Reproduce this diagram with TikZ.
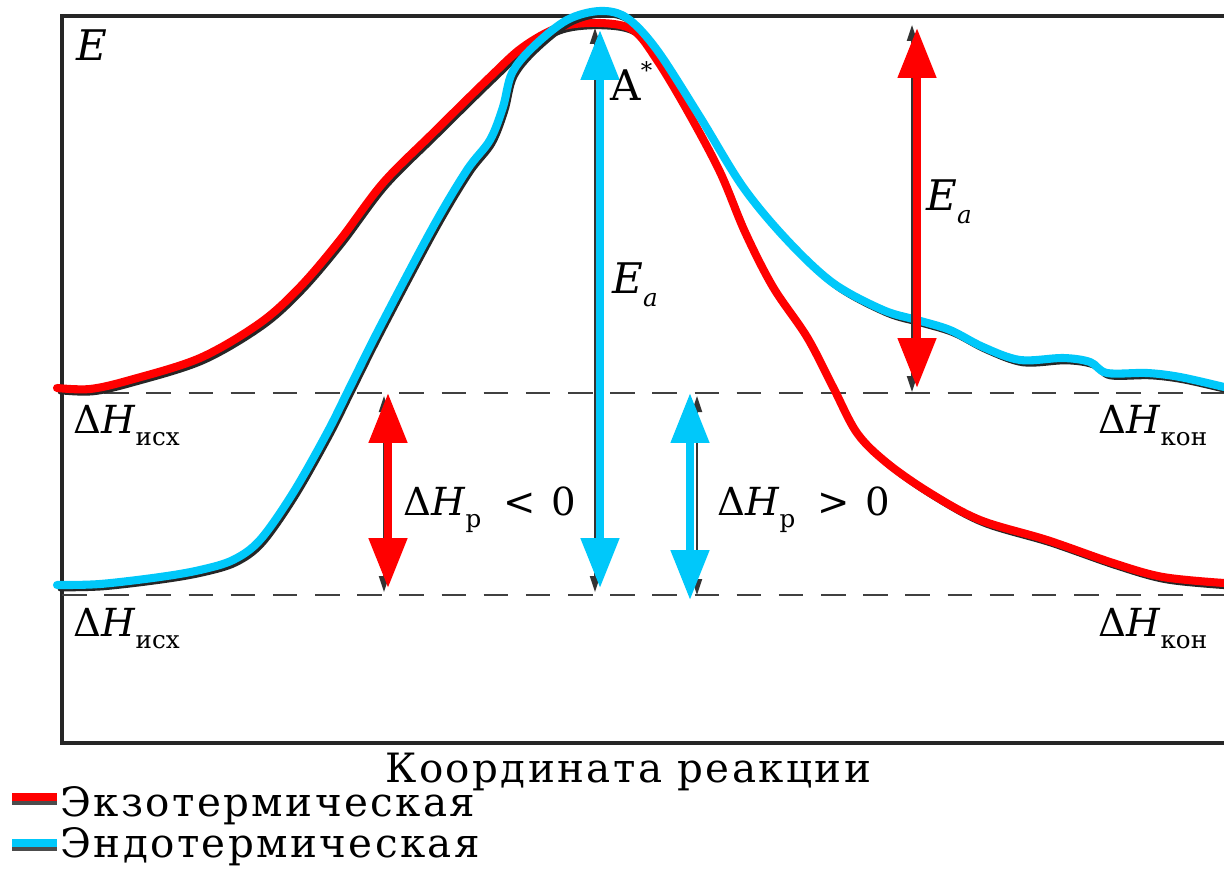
\documentclass[tikz,border=0pt]{standalone}
\usepackage{fontspec}
\setmainfont{DejaVu Serif}
\newfontfamily\spacedfont[LetterSpace=6]{DejaVu Serif}
\usetikzlibrary{arrows.meta}
\definecolor{exored}{RGB}{255,0,0}
\definecolor{endoblue}{RGB}{0,200,250}
\newcommand\lowsub[1]{\raisebox{-0.32em}{\fontsize{14}{14}\selectfont #1}}

\begin{document}
\begin{tikzpicture}[x=0.02cm, y=-0.02cm,
    lbl/.style={font=\fontsize{22}{24}\selectfont, inner sep=0pt, anchor=base west},
    elbl/.style={font=\fontsize{24}{26}\selectfont, inner sep=0pt, anchor=base west},
    txt/.style={font=\spacedfont\fontsize{23}{25}\selectfont, inner sep=0pt, anchor=base west},
    frame/.style={line width=2pt, black!85},
    level/.style={line width=1.2pt, black!75, dash pattern=on 14pt off 10pt},
    shadow/.style={line width=2.6pt, black!85, line cap=round, line join=round},
    exo/.style={exored, line width=4.6pt, line cap=round, line join=round},
    endo/.style={endoblue, line width=4.6pt, line cap=round, line join=round},
    oldarr/.style={{Triangle[length=0.32cm,width=0.2cm]}-{Triangle[length=0.32cm,width=0.2cm]},
      line width=1.2pt, black!80},
    colarr/.style={{Triangle[length=1cm,width=0.74cm]}-{Triangle[length=1cm,width=0.74cm]},
      line width=4.6pt},
  ]
  \useasboundingbox (0,0) rectangle (1224,869);
  \fill[white] (0,0) rectangle (1224,869);

  % frame
  \coordinate (fTL) at (62,16);
  \coordinate (fTR) at (1224,16);
  \coordinate (fBL) at (62,743);
  \coordinate (fBR) at (1224,743);
  \draw[frame] (fTR) -- (fTL) -- (fBL) -- (fBR);

  % levels
  \coordinate (hiL) at (62,393);
  \coordinate (hiR) at (1224,393);
  \coordinate (loL) at (62,595);
  \coordinate (loR) at (1224,595);
  \draw[level] (hiL) -- (hiR);
  \draw[level] (loL) -- (loR);

  % exothermic curve (with dark trace under it)
  \foreach \sty/\dx/\dy in {shadow/0.06cm/-0.08cm, exo/0cm/0cm}
    \draw[\sty, xshift=\dx, yshift=\dy] plot[smooth, tension=0.55] coordinates {
      (57,388) (90,389) (130,380) (200,358) (260,323) (300,287) (340,240)
      (383,183) (433,133) (490,77) (523,47) (560,27) (600,23) (633,30)
      (657,60) (687,110) (720,172) (745,232) (773,287) (807,337) (833,387)
      (857,433) (887,463) (930,493) (980,520) (1047,540) (1113,563)
      (1163,577) (1224,583)};

  % endothermic curve
  \foreach \sty/\dx/\dy in {shadow/0.06cm/-0.08cm, endo/0cm/0cm}
    \draw[\sty, xshift=\dx, yshift=\dy] plot[smooth, tension=0.55] coordinates {
      (57,585) (100,584) (160,577) (200,570) (233,560) (260,540) (293,493)
      (327,433) (350,387) (380,327) (433,227) (467,170) (490,140) (503,107)
      (512,73) (533,47) (567,20) (600,11) (627,18) (657,50) (700,117)
      (743,187) (787,240) (833,283) (883,310) (917,320) (950,330) (983,347)
      (1020,360) (1063,358) (1090,362) (1107,373) (1147,373) (1180,377)
      (1224,387)};

  % original black arrows
  \coordinate (oA1) at (384,396);  \coordinate (oA2) at (384,592);
  \coordinate (oB1) at (595,28);   \coordinate (oB2) at (595,592);
  \coordinate (oC1) at (697,396);  \coordinate (oC2) at (697,595);
  \coordinate (oD1) at (912,25);   \coordinate (oD2) at (912,392);
  \draw[oldarr] (oA1) -- (oA2);
  \draw[oldarr] (oB1) -- (oB2);
  \draw[oldarr] (oC1) -- (oC2);
  \draw[oldarr] (oD1) -- (oD2);

  % coloured arrows
  \coordinate (dHexoT) at (388,393);  \coordinate (dHexoB) at (388,588);
  \coordinate (EaendoT) at (600,30);  \coordinate (EaendoB) at (600,588);
  \coordinate (dHendoT) at (690,393); \coordinate (dHendoB) at (690,600);
  \coordinate (EaexoT) at (917,28);   \coordinate (EaexoB) at (917,388);
  \draw[colarr, exored] (dHexoT) -- (dHexoB);
  \draw[colarr, endoblue] (EaendoT) -- (EaendoB);
  \draw[colarr, endoblue] (dHendoT) -- (dHendoB);
  \draw[colarr, exored] (EaexoT) -- (EaexoB);

  % labels
  \node[elbl] (Eaxis) at (76,60) {\textit{E}};
  \node[elbl] (Astar) at (610,100) {A\raisebox{0.5em}{\fontsize{13}{13}\selectfont*}};
  \node[elbl] (EaMid) at (612,293) {\textit{E}\lowsub{\textit{a}}};
  \node[elbl] (EaRight) at (926,210) {\textit{E}\lowsub{\textit{a}}};
  \node[lbl] (Hini1) at (73,433) {Δ\textit{H}\lowsub{исх}};
  \node[lbl] (Hini2) at (73,636) {Δ\textit{H}\lowsub{исх}};
  \node[lbl] (Hfin1) at (1098,433) {Δ\textit{H}\lowsub{кон}};
  \node[lbl] (Hfin2) at (1098,636) {Δ\textit{H}\lowsub{кон}};
  \node[lbl] (dHneg) at (403,515) {Δ\textit{H}\lowsub{р}\hspace{0.45cm}<\hspace{0.3cm}0};
  \node[lbl] (dHpos) at (717,515) {Δ\textit{H}\lowsub{р}\hspace{0.45cm}>\hspace{0.3cm}0};

  % axis title and legend
  \node[txt] (xtitle) at (385,782) {Координата реакции};
  \coordinate (lgExoA) at (12,797);  \coordinate (lgExoB) at (57,797);
  \coordinate (lgEndoA) at (12,843); \coordinate (lgEndoB) at (57,843);
  \draw[line width=3.5pt, black!70] ([yshift=-3pt]lgExoA) -- ([yshift=-3pt]lgExoB);
  \draw[line width=3.5pt, black!70] ([yshift=-3pt]lgEndoA) -- ([yshift=-3pt]lgEndoB);
  \draw[line width=4pt, exored] (lgExoA) -- (lgExoB);
  \draw[line width=4pt, endoblue] (lgEndoA) -- (lgEndoB);
  \node[txt] (lgExo) at (60,816) {Экзотермическая};
  \node[txt] (lgEndo) at (60,857) {Эндотермическая};
\end{tikzpicture}
\end{document}
